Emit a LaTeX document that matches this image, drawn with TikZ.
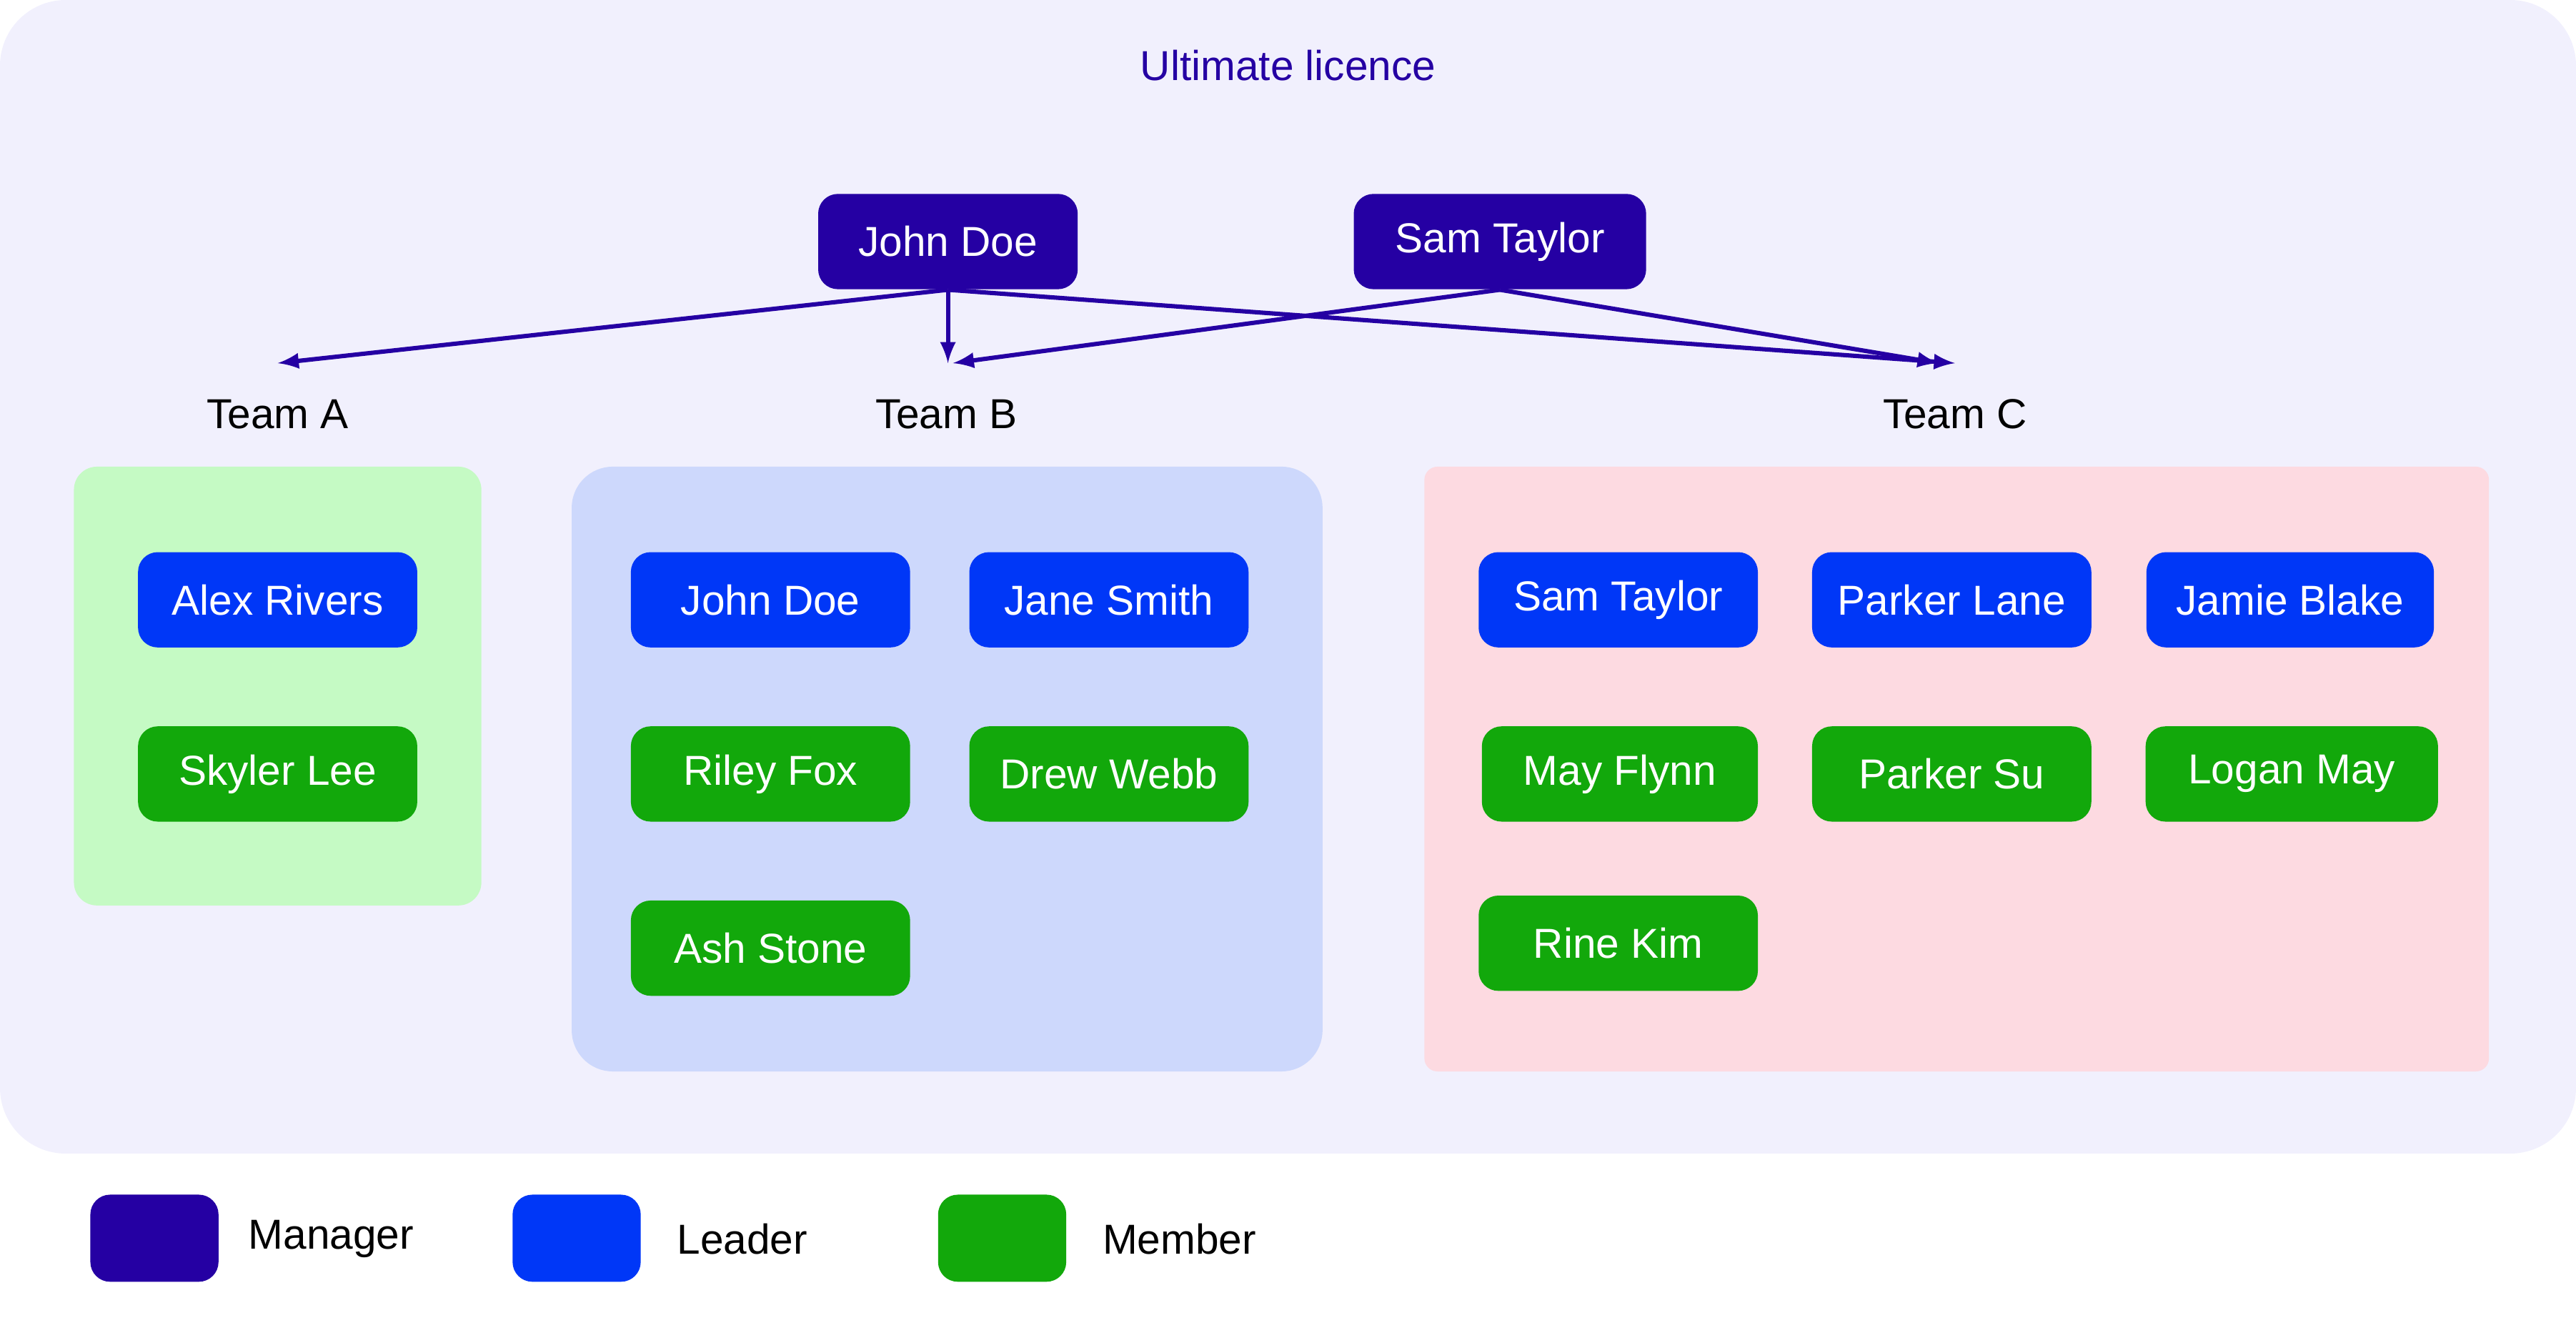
\documentclass[tikz,border=0pt]{standalone}
\usepackage{fontspec}
\setmainfont{Liberation Sans}
\definecolor{bgpanel}{HTML}{F1F0FD}
\definecolor{mgrcol}{HTML}{2500A3}
\definecolor{leadcol}{HTML}{0037F7}
\definecolor{memcol}{HTML}{12A80B}
\definecolor{teamAcol}{HTML}{C5FAC4}
\definecolor{teamBcol}{HTML}{CDD8FC}
\definecolor{teamCcol}{HTML}{FDDAE1}
\tikzset{
  person/.style={rounded corners=0.24cm, minimum height=1.16cm, text=white,
    font=\fontsize{14.5}{17}\selectfont, inner xsep=0.2cm},
  manager/.style={person, fill=mgrcol},
  leader/.style={person, fill=leadcol, minimum width=3.4cm},
  member/.style={person, fill=memcol, minimum width=3.4cm},
  teamlabel/.style={font=\fontsize{14.5}{17}\selectfont},
  link/.style={draw=mgrcol, line width=1.5pt, -latex}
}
\begin{document}
\begin{tikzpicture}[x=0.02cm, y=-0.02cm]
  \useasboundingbox (0,0) rectangle (1568,817);
  \fill[bgpanel, rounded corners=0.8cm] (0,0) rectangle (1568,702);
  \node[text=mgrcol, font=\fontsize{14.5}{17}\selectfont] (title) at (784,40) {Ultimate licence};

  % team panels
  \fill[teamAcol, rounded corners=0.28cm] (45,284) rectangle (293,551);
  \fill[teamBcol, rounded corners=0.5cm] (348,284) rectangle (805,652);
  \fill[teamCcol, rounded corners=0.16cm] (867,284) rectangle (1515,652);

  % managers
  \node[manager, minimum width=3.16cm] (mJohn) at (577,147) {John Doe};
  \node[manager, minimum width=3.56cm] (mSam) at (913,147) {Sam Taylor};

  % teams
  \node[teamlabel] (teamA) at (169,252) {Team A};
  \node[teamlabel] (teamB) at (576,252) {Team B};
  \node[teamlabel] (teamC) at (1190,252) {Team C};
  \coordinate (inA) at (169,221);
  \coordinate (inB) at (577,221);
  \coordinate (inBs) at (580,221);
  \coordinate (inC) at (1180,221);
  \coordinate (inCs) at (1190,221);

  \draw[link] (mJohn.south) -- (inA);
  \draw[link] (mJohn.south) -- (inB);
  \draw[link] (mJohn.south) -- (inCs);
  \draw[link] (mSam.south) -- (inBs);
  \draw[link] (mSam.south) -- (inC);

  % team A
  \node[leader] (aAlex) at (169,365) {Alex Rivers};
  \node[member] (aSkyler) at (169,471) {Skyler Lee};

  % team B
  \node[leader] (bJohn) at (469,365) {John Doe};
  \node[leader] (bJane) at (675,365) {Jane Smith};
  \node[member] (bRiley) at (469,471) {Riley Fox};
  \node[member] (bDrew) at (675,471) {Drew Webb};
  \node[member] (bAsh) at (469,577) {Ash Stone};

  % team C
  \node[leader] (cSam) at (985,365) {Sam Taylor};
  \node[leader] (cParker) at (1188,365) {Parker Lane};
  \node[leader, minimum width=3.5cm] (cJamie) at (1394,365) {Jamie Blake};
  \node[member, minimum width=3.36cm] (cMay) at (986,471) {May Flynn};
  \node[member] (cParkerSu) at (1188,471) {Parker Su};
  \node[member, minimum width=3.56cm] (cLogan) at (1395,471) {Logan May};
  \node[member] (cRine) at (985,574) {Rine Kim};

  % legend
  \fill[mgrcol, rounded corners=0.24cm] (55,727) rectangle (133,780);
  \fill[leadcol, rounded corners=0.24cm] (312,727) rectangle (390,780);
  \fill[memcol, rounded corners=0.24cm] (571,727) rectangle (649,780);
  \node[teamlabel, anchor=west] (lgManager) at (145,754) {Manager};
  \node[teamlabel, anchor=west] (lgLeader) at (406,754) {Leader};
  \node[teamlabel, anchor=west] (lgMember) at (665,754) {Member};
\end{tikzpicture}
\end{document}
